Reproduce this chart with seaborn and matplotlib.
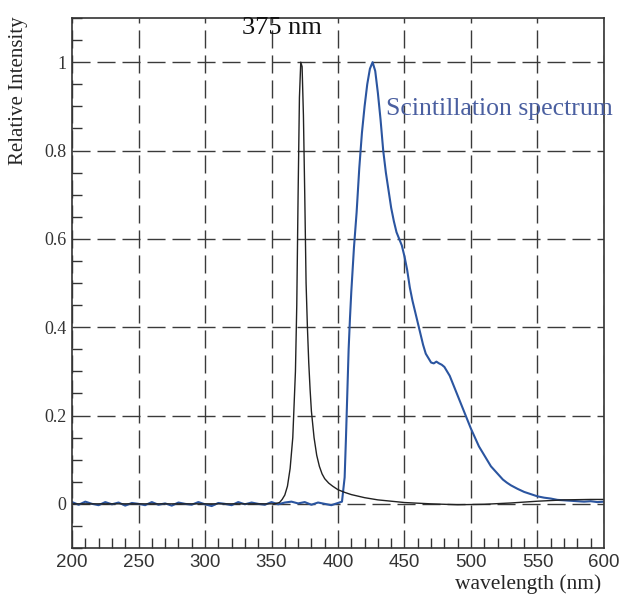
import numpy as np
import pandas as pd
import seaborn as sns
import matplotlib.pyplot as plt
from matplotlib.ticker import MultipleLocator

# LED excitation line (375 nm)
led_wl = [200, 250, 300, 340, 352, 356, 358, 360, 362, 364, 366, 368, 369, 370, 371,
          372, 373, 374, 375, 376, 377, 378, 379, 380, 382, 384, 386, 388, 390,
          393, 396, 400, 405, 410, 420, 430, 440, 450, 470, 490, 510, 530, 550,
          570, 590, 600]
led_int = [0.0, 0.0, 0.0, 0.0, 0.0, 0.003, 0.01, 0.02, 0.04, 0.08, 0.15, 0.3, 0.45,
           0.7, 0.92, 1.0, 0.99, 0.88, 0.7, 0.5, 0.4, 0.32, 0.26, 0.21, 0.15, 0.11,
           0.085, 0.068, 0.057, 0.047, 0.04, 0.032, 0.026, 0.021, 0.014, 0.009,
           0.006, 0.003, 0.0, -0.002, -0.001, 0.002, 0.006, 0.009, 0.01, 0.01]

# Scintillation spectrum (baseline jitter as seen)
sci_wl = [200, 205, 210, 215, 220, 225, 230, 235, 240, 245, 250, 255, 260, 265,
          270, 275, 280, 285, 290, 295, 300, 305, 310, 315, 320, 325, 330, 335,
          340, 345, 350, 355, 360, 365, 370, 375, 380, 385, 390, 395, 400, 403,
          405, 406, 407, 408, 409, 410, 412, 414, 416, 418, 420, 422, 424, 426,
          428, 430, 432, 434, 436, 438, 440, 442, 444, 446, 448, 450, 452, 454,
          456, 458, 460, 462, 464, 466, 468, 470, 472, 474, 476, 478, 480, 482,
          484, 486, 488, 490, 492, 494, 496, 498, 500, 503, 506, 509, 512, 515,
          518, 521, 524, 527, 530, 535, 540, 545, 550, 555, 560, 565, 570, 575,
          580, 585, 590, 595, 600]
sci_int = [0.004, -0.002, 0.005, 0.0, -0.003, 0.004, -0.001, 0.003, -0.004, 0.002,
           0.0, -0.003, 0.004, -0.002, 0.001, -0.004, 0.003, 0.0, -0.002, 0.004,
           -0.001, -0.005, 0.002, 0.0, -0.003, 0.004, -0.001, 0.003, 0.0, -0.002,
           0.004, -0.001, 0.003, 0.005, 0.001, 0.004, -0.002, 0.003, 0.0, -0.003,
           0.002, 0.005, 0.06, 0.15, 0.25, 0.35, 0.42, 0.48, 0.58, 0.66, 0.76,
           0.84, 0.9, 0.95, 0.985, 1.0, 0.98, 0.93, 0.87, 0.8, 0.75, 0.71, 0.67,
           0.64, 0.615, 0.6, 0.585, 0.56, 0.53, 0.49, 0.46, 0.435, 0.41, 0.385,
           0.36, 0.34, 0.33, 0.32, 0.318, 0.322, 0.318, 0.315, 0.31, 0.3, 0.29,
           0.275, 0.26, 0.245, 0.23, 0.215, 0.2, 0.185, 0.17, 0.15, 0.13, 0.115,
           0.1, 0.085, 0.075, 0.065, 0.055, 0.048, 0.042, 0.034, 0.027, 0.022,
           0.017, 0.014, 0.012, 0.009, 0.008, 0.007, 0.006, 0.005, 0.006, 0.004,
           0.005]

led = pd.DataFrame({"wavelength": led_wl, "intensity": led_int})
sci = pd.DataFrame({"wavelength": sci_wl, "intensity": sci_int})

sns.set_style("white")
plt.rcParams["font.family"] = ["Liberation Serif", "DejaVu Serif"]

fig = plt.figure(figsize=(6.22, 5.94), dpi=100)
ax = fig.add_axes([0.1158, 0.0774, 0.8552, 0.8923])

sns.lineplot(data=sci, x="wavelength", y="intensity", ax=ax,
             color="#2b55a0", linewidth=1.5, estimator=None, sort=False)
sns.lineplot(data=led, x="wavelength", y="intensity", ax=ax,
             color="#222222", linewidth=1.0, estimator=None, sort=False)

ax.set_xlim(200, 600)
ax.set_ylim(-0.1, 1.1)
ax.xaxis.set_major_locator(MultipleLocator(50))
ax.xaxis.set_minor_locator(MultipleLocator(10))
ax.yaxis.set_major_locator(MultipleLocator(0.2))
ax.yaxis.set_minor_locator(MultipleLocator(0.05))
ax.set_yticks([0, 0.2, 0.4, 0.6, 0.8, 1.0])
ax.set_yticklabels(["0", "0.2", "0.4", "0.6", "0.8", "1"])

ax.grid(True, which="major", color="#3a3a3a", linestyle=(0, (13, 5)), linewidth=1.0)
ax.tick_params(which="both", direction="in", left=True, bottom=True,
               top=False, right=False, colors="#333333")
ax.tick_params(which="minor", length=7, width=1)
ax.tick_params(which="major", length=0, pad=4)
for lab in ax.get_xticklabels():
    lab.set_fontfamily("Liberation Sans")
    lab.set_fontsize(13.5)
for lab in ax.get_yticklabels():
    lab.set_fontsize(13)
for s in ax.spines.values():
    s.set_color("#333333")
    s.set_linewidth(1.2)

ax.set_xlabel("")
ax.set_ylabel("")
fig.text(0.029, 0.847, "Relative Intensity", rotation=90, ha="center", va="center",
         fontsize=15)
fig.text(0.966, 0.0, "wavelength (nm)", ha="right", va="bottom", fontsize=15.5)

ax.text(357.5, 1.077, "375 nm", ha="center", va="center", fontsize=19, color="#111111")
ax.text(436, 0.895, "Scintillation spectrum", ha="left", va="center", fontsize=18.5,
        color="#4a5fa0", clip_on=False)

fig.savefig("out.png", dpi=100)
